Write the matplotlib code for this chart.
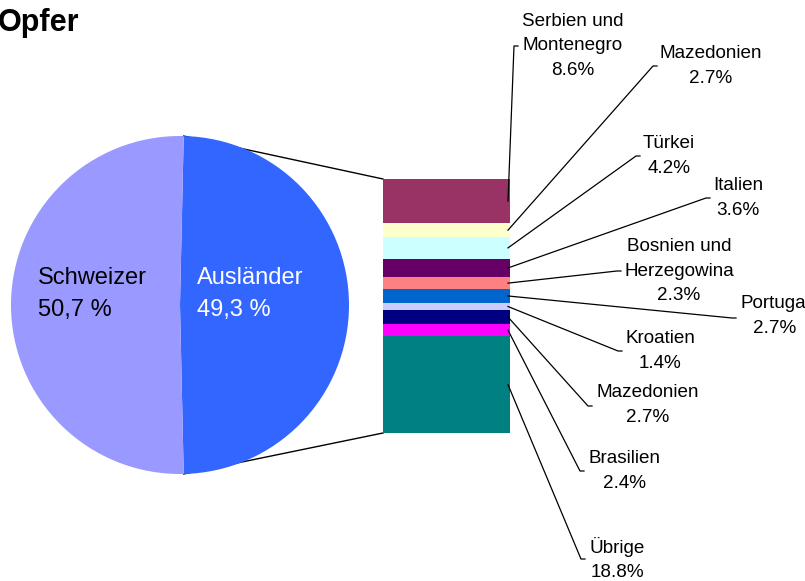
import matplotlib.pyplot as plt
import numpy as np

plt.rcParams['font.family'] = ['Liberation Sans', 'DejaVu Sans']

# data
pie_labels = ["Ausländer", "Schweizer"]
pie_values = [49.3, 50.7]
pie_colors = ["#3366FF", "#9999FF"]

bar_labels = ["Serbien und\nMontenegro", "Mazedonien", "Türkei", "Italien",
              "Bosnien und\nHerzegowina", "Portugal", "Kroatien", "Mazedonien",
              "Brasilien", "Übrige"]
bar_values = [8.6, 2.7, 4.2, 3.6, 2.3, 2.7, 1.4, 2.7, 2.4, 18.8]
bar_colors = ["#993366", "#FFFFCC", "#CCFFFF", "#660066", "#FF8080",
              "#0066CC", "#CCCCFF", "#000080", "#FF00FF", "#008080"]

# layout (pixel coordinates, y measured from top)
W, H = 805, 581
pie_cx, pie_cy, pie_r = 180, 305, 169
bar_left, bar_right, bar_top, bar_bottom = 383, 510, 179, 433
# label text centre and leader hook point
label_pos = [(573, 46), (711, 66), (669, 156), (738, 198), (679, 271),
             (775, 316), (660, 351), (648, 405), (624, 471), (617, 559)]
hook_pos = [(514, 46), (653, 66), (636, 156), (706, 198), (617, 271),
            (732, 318), (618, 351), (588, 406), (580, 471), (581, 559)]


def py(y):
    return H - y


fig = plt.figure(figsize=(W / 100, H / 100), dpi=100)
ax = fig.add_axes([0, 0, 1, 1])

# pie, the "other" slice centred on the right
start = pie_values[0] / sum(pie_values) * 360 / 2
ax.pie(pie_values, colors=pie_colors, startangle=start, counterclock=False,
       center=(pie_cx, py(pie_cy)), radius=pie_r, frame=True,
       wedgeprops=dict(linewidth=0, zorder=2))

# stacked bar from top down
vals = np.array(bar_values)
scale = (bar_bottom - bar_top) / vals.sum()
heights = vals * scale
bottoms = py(bar_top) - np.cumsum(heights)
ax.bar([(bar_left + bar_right) / 2] * len(vals), heights, bottom=bottoms,
       width=bar_right - bar_left, color=bar_colors, linewidth=0, zorder=2)

# connector lines between pie slice and bar
a1 = np.deg2rad(start)
a2 = np.deg2rad(start - pie_values[0] / sum(pie_values) * 360)
ax.plot([pie_cx + pie_r * np.cos(a1), bar_left],
        [py(pie_cy) + pie_r * np.sin(a1), py(bar_top)],
        color="black", lw=1, zorder=1)
ax.plot([pie_cx + pie_r * np.cos(a2), bar_left],
        [py(pie_cy) + pie_r * np.sin(a2), py(bar_bottom)],
        color="black", lw=1, zorder=1)

# leader lines and labels
centres = bottoms + heights / 2
for lab, v, c, (tx, ty), (hx, hy) in zip(bar_labels, vals, centres, label_pos, hook_pos):
    ax.plot([bar_right - 2, hx, hx + 4], [c, py(hy), py(hy)],
            color="black", lw=0.9, zorder=3)
    ax.text(tx, py(ty), f"{lab}\n{v:.1f}%", ha="center", va="center",
            multialignment="center", fontsize=13.6, color="black",
            linespacing=1.6)

# pie labels
ax.text(38, py(294), f"{pie_labels[1]}\n{pie_values[1]:.1f} %".replace(".", ","),
        ha="left", va="center", fontsize=17, color="black", linespacing=1.55)
ax.text(197, py(294), f"{pie_labels[0]}\n{pie_values[0]:.1f} %".replace(".", ","),
        ha="left", va="center", fontsize=17, color="white", linespacing=1.55)

ax.text(-2, py(31), "Opfer", ha="left", va="baseline", fontsize=22,
        fontweight="bold")

ax.set_xlim(0, W)
ax.set_ylim(0, H)
ax.set_aspect("auto")
ax.axis("off")

fig.savefig("out.png", dpi=100)
